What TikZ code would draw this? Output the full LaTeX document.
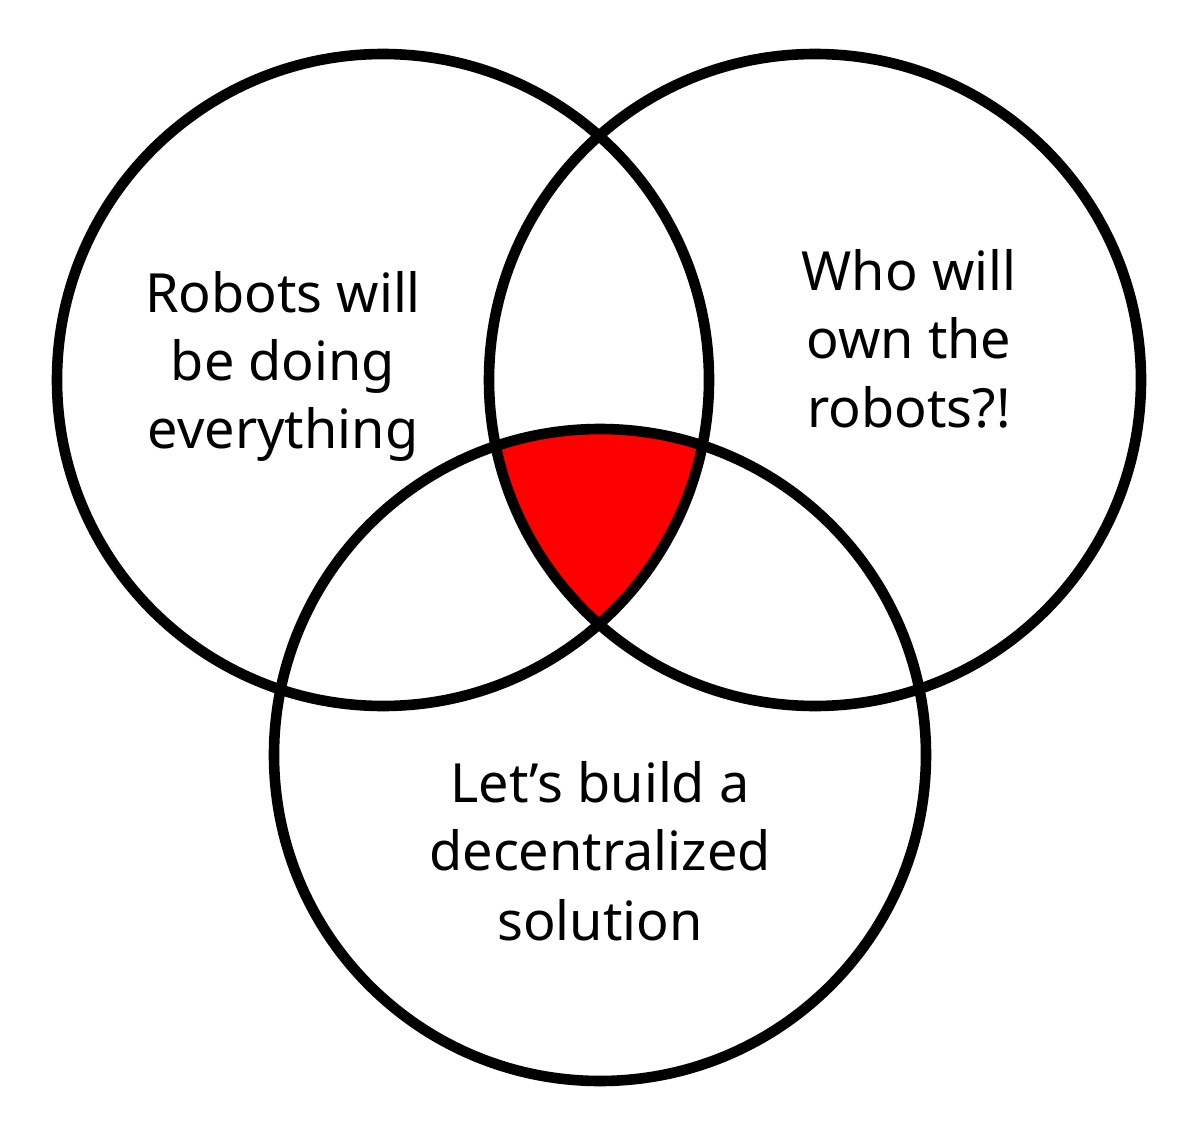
\documentclass[tikz,border=0pt]{standalone}
\usepackage{fontspec}
\setmainfont{Noto Sans}
\begin{document}
\begin{tikzpicture}[x=0.5pt,y=-0.5pt,
  ring/.style={draw=black,line width=5.3pt},
  lbl/.style={anchor=base,inner sep=0pt,font=\fontsize{27pt}{34pt}\selectfont}]
\useasboundingbox (0,0) rectangle (1200,1145);
\fill[white] (0,0) rectangle (1200,1145);
\coordinate (cL) at (383,380);
\coordinate (cR) at (815,380);
\coordinate (cB) at (600,755);
\begin{scope}
  \clip (cL) circle[radius=163pt];
  \clip (cR) circle[radius=163pt];
  \fill[red] (cB) circle[radius=163pt];
\end{scope}
\draw[ring] (cL) circle[radius=163pt];
\draw[ring] (cR) circle[radius=163pt];
\draw[ring] (cB) circle[radius=163pt];
\node[lbl] (l1) at (283,312) {Robots will};
\node[lbl] (l2) at (283,380) {be doing};
\node[lbl] (l3) at (283,448) {everything};
\node[lbl] (r1) at (909,290) {Who will};
\node[lbl] (r2) at (909,358) {own the};
\node[lbl] (r3) at (909,427) {robots?!};
\node[lbl] (b1) at (600,802) {Let’s build a};
\node[lbl] (b2) at (600,870) {decentralized};
\node[lbl] (b3) at (600,940) {solution};
\end{tikzpicture}
\end{document}
